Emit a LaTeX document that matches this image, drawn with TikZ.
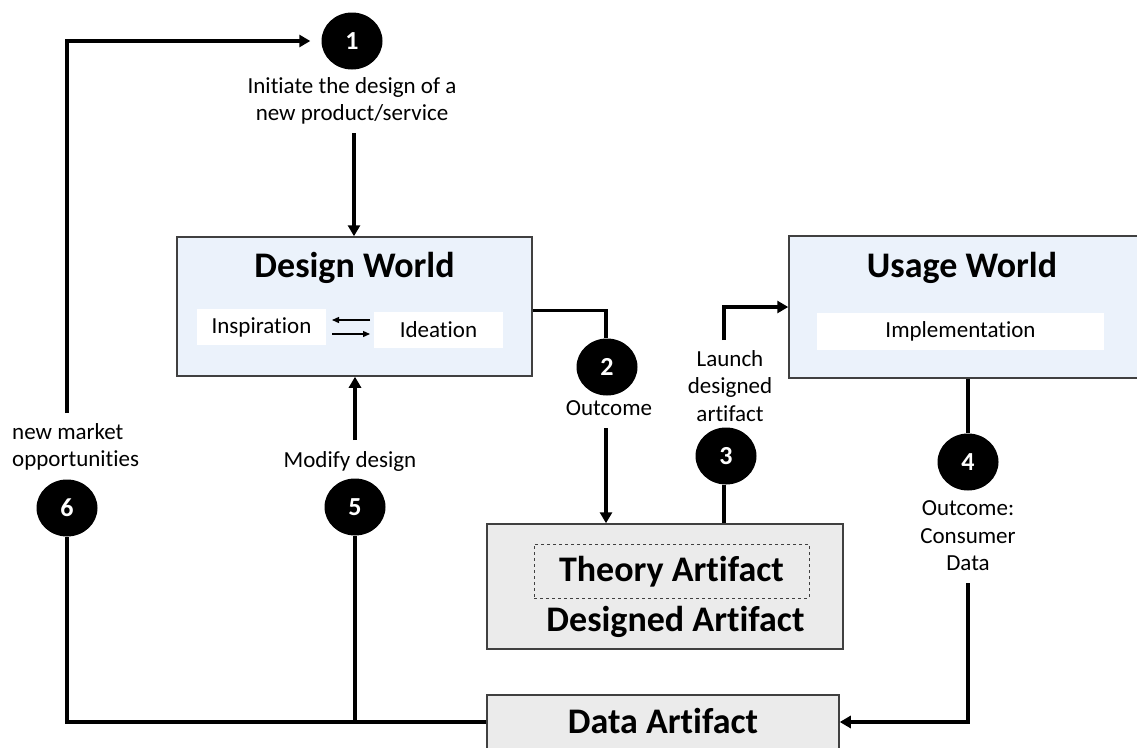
\documentclass[tikz,border=0pt]{standalone}
\usepackage{fontspec}
\setmainfont{Carlito}[Ligatures={NoCommon,NoContextual}]
\usetikzlibrary{arrows.meta,calc,shapes.geometric}
\definecolor{worldfill}{HTML}{EBF2FB}
\definecolor{artfill}{HTML}{EBEBEB}
\definecolor{edge}{HTML}{404040}
\tikzset{
  world/.style={draw=edge,line width=1.5pt,fill=worldfill,inner sep=0pt},
  artbox/.style={draw=edge,line width=1.5pt,fill=artfill,inner sep=0pt},
  subbox/.style={fill=white,inner sep=0pt,font=\fontsize{23}{27}\selectfont},
  stepnum/.style={ellipse,fill=black,minimum width=61pt,minimum height=57pt,inner sep=0pt,text=white,font=\bfseries\fontsize{26}{28}\selectfont},
  label/.style={align=center,inner sep=0pt,font=\fontsize{23}{27.5}\selectfont},
  title/.style={inner sep=0pt,font=\bfseries\fontsize{36}{40}\selectfont},
  conn/.style={line width=3.5pt},
  arr/.style={line width=3.5pt,-{Triangle[length=11pt,width=12pt]}},
  thinarr/.style={line width=1.3pt,-{Triangle[length=7pt,width=6pt]}}
}
\begin{document}
\begin{tikzpicture}[x=1pt,y=-1pt]
\useasboundingbox (0,0) rectangle (1137,747);
\clip (0,0) rectangle (1137,747);

% boxes
\node[world,minimum width=355pt,minimum height=139pt] (dw) at (354.5,306.5) {};
\node[title] (dwt) at (354.5,268) {Design World};
\node[subbox,minimum width=129pt,minimum height=36pt] (insp) at (261.5,327) {Inspiration};
\node[subbox,minimum width=129pt,minimum height=36pt] (idea) at (438.5,330) {Ideation};

\node[world,minimum width=356pt,minimum height=142pt] (uw) at (967,307) {};
\node[title] (uwt) at (962,268) {Usage World};
\node[subbox,minimum width=287pt,minimum height=37pt] (impl) at (960.5,331.5) {Implementation};

\node[artbox,minimum width=356pt,minimum height=125pt] (ds) at (665,586.5) {};
\node[draw=edge,dashed,line width=1pt,minimum width=275pt,minimum height=54pt,inner sep=0pt] (th) at (671.5,571) {};
\node[title] (tht) at (671.5,572) {Theory Artifact};
\node[title] (dst) at (675.5,622) {Designed Artifact};

\node[artbox,minimum width=352pt,minimum height=54pt] (da) at (663,722) {};
\node[title] (dat) at (663,721) {Data Artifact};

% numbered steps
\node[stepnum] (c1) at (352,41) {1};
\node[stepnum] (c2) at (607,367) {2};
\node[stepnum] (c3) at (726,456) {3};
\node[stepnum] (c4) at (968,462) {4};
\node[stepnum] (c5) at (355,507) {5};
\node[stepnum] (c6) at (67,508) {6};

% step labels
\node[label] (t1) at (352,101) {Initiate the design of a\\new product/service};
\node[label] (t2) at (609,408) {Outcome};
\node[label] (t3) at (730,386) {Launch\\designed\\artifact};
\node[label] (t4) at (968,536) {Outcome:\\Consumer\\Data};
\node[label] (t5) at (350,461) {Modify design};
\node[label,align=left,anchor=west] (t6) at (12,447) {new market\\opportunities};

% free ends of connectors
\coordinate (s1) at (354,133);
\coordinate (s2) at (606,428);
\coordinate (s3) at (724,340);
\coordinate (s4) at (968,583);
\coordinate (s5) at (355,440);
\coordinate (s6) at (67,413);

% connectors
\draw[arr,shorten >=11pt] (s6) |- (c1.west);
\draw[arr] (s1) -- (s1 |- dw.north);
\draw[conn] ([yshift=-4pt]dw.east) -| (c2.north -| s2);
\draw[arr] (s2) -- (s2 |- ds.north);
\draw[conn] (c3.south -| s3) -- (s3 |- ds.north);
\draw[arr] (s3) |- (uw.west);
\draw[conn] (uw.south -| c4) -- (c4.north);
\draw[arr] (s4) |- (da.east);
\draw[conn] (da.west) -| (c6.south);
\draw[conn] (c5.south) -- (c5.south |- da.west);
\draw[arr] (s5) -- (s5 |- dw.south);

% exchange between inspiration and ideation
\draw[thinarr] (370,320) -- (332,320);
\draw[thinarr] (332,334) -- (370,334);
\end{tikzpicture}
\end{document}
